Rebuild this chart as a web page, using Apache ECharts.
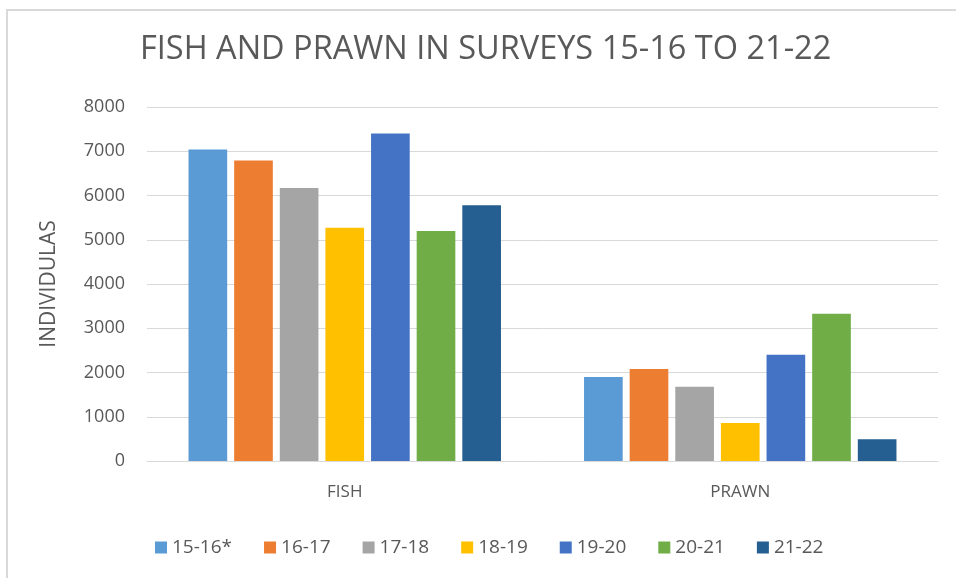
<!DOCTYPE html>
<html>
<head>
<meta charset="utf-8">
<script src="https://cdn.jsdelivr.net/npm/echarts@6/dist/echarts.min.js"></script>
<style>
  html, body { margin: 0; padding: 0; background: #fff; }
  #chart { width: 956px; height: 578px; }
</style>
</head>
<body>
<div id="chart"></div>
<script>
// 数据
const categories = ['FISH', 'PRAWN'];
const seasons = ['15-16*', '16-17', '17-18', '18-19', '19-20', '20-21', '21-22'];
const fishValues = [7040, 6790, 6170, 5270, 7400, 5200, 5780];
const prawnValues = [1900, 2080, 1680, 860, 2400, 3330, 490];
const colors = ['#5b9bd5', '#ed7d31', '#a5a5a5', '#ffc000', '#4472c4', '#70ad47', '#255e91'];
const yTicks = [0, 1000, 2000, 3000, 4000, 5000, 6000, 7000, 8000];

const textColor = '#595959';
const font = '"Open Sans", "Liberation Sans", sans-serif';

const chart = echarts.init(document.getElementById('chart'));

chart.setOption({
    animation: false,
    textStyle: { fontFamily: font, color: textColor },
    title: {
        text: 'FISH AND PRAWN IN SURVEYS 15-16 TO 21-22',
        left: 140,
        top: 33,
        padding: 0,
        textStyle: { fontFamily: font, fontSize: 32.5, fontWeight: 'normal', color: textColor }
    },
    legend: {
        bottom: 21,
        left: 155,
        padding: 0,
        itemWidth: 12,
        itemHeight: 12,
        itemGap: 32,
        icon: 'rect',
        textStyle: { fontFamily: font, fontSize: 19, color: textColor },
        data: seasons
    },
    grid: { left: 147, right: 18, top: 107, bottom: 117 },
    xAxis: {
        type: 'category',
        data: categories,
        axisLine: { lineStyle: { color: '#d9d9d9', width: 1 } },
        axisTick: { show: false },
        axisLabel: { fontFamily: font, fontSize: 17, color: textColor, margin: 23 }
    },
    yAxis: {
        type: 'value',
        min: yTicks[0],
        max: yTicks[yTicks.length - 1],
        interval: 1000,
        name: 'INDIVIDULAS',
        nameLocation: 'middle',
        nameGap: 87,
        nameTextStyle: { fontFamily: font, fontSize: 21, color: textColor },
        axisLine: { show: false },
        axisTick: { show: false },
        axisLabel: { fontFamily: font, fontSize: 18, color: textColor, margin: 22, formatter: v => String(v) },
        splitLine: { lineStyle: { color: '#d9d9d9', width: 1 } }
    },
    series: seasons.map((s, i) => ({
        name: s,
        type: 'bar',
        data: [fishValues[i], prawnValues[i]],
        itemStyle: { color: colors[i] },
        barGap: '18%',
        barCategoryGap: '21%'
    })),
    graphic: [{
        type: 'rect',
        shape: { x: 7, y: 10, width: 1000, height: 600 },
        style: { fill: 'none', stroke: '#d9d9d9', lineWidth: 2 },
        silent: true
    }]
});
</script>
</body>
</html>
